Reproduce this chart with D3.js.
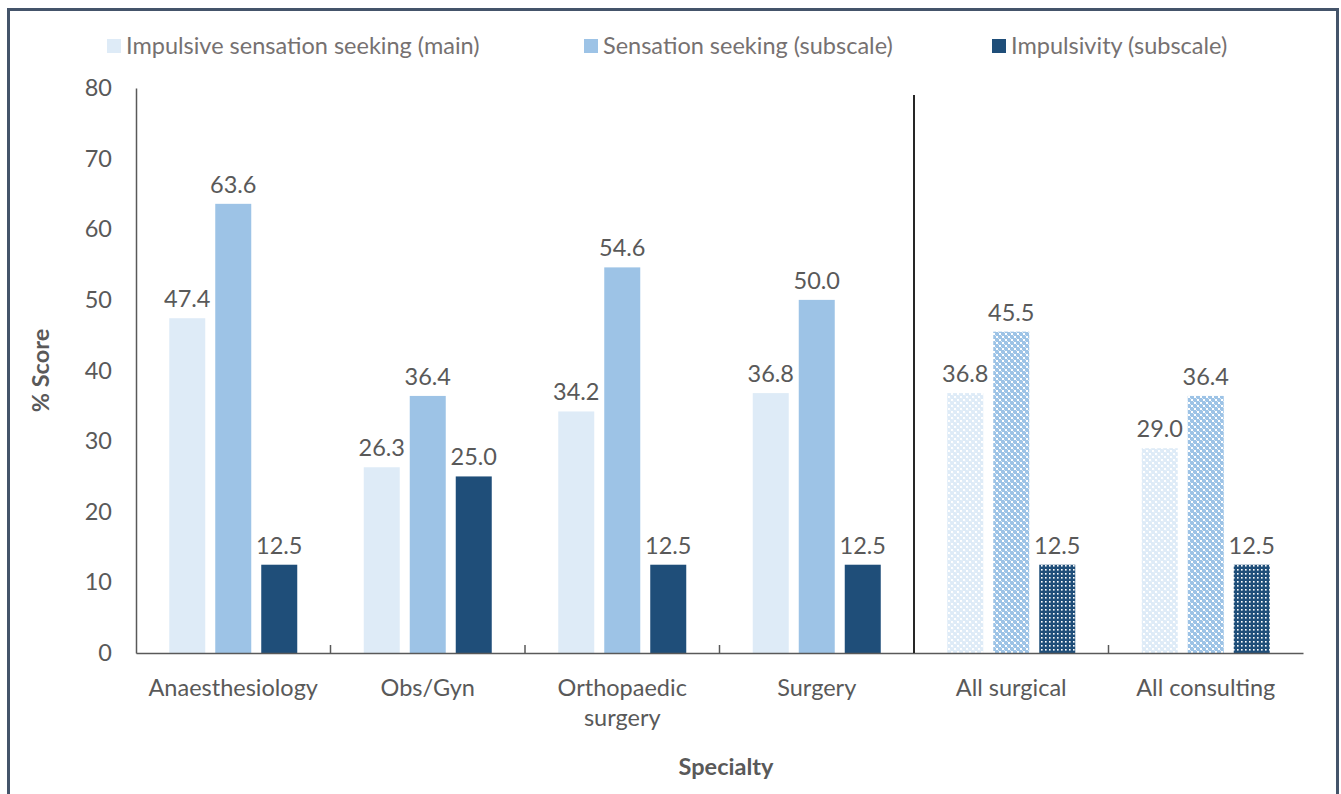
<!DOCTYPE html>
<html>
<head>
<meta charset="utf-8">
<script src="https://cdn.jsdelivr.net/npm/d3@7"></script>
<style>
  body { margin: 0; background: #fff; }
  svg { display: block; font-family: Lato, "Open Sans", sans-serif; }
</style>
</head>
<body>
<div id="chart"></div>
<script>
// 数据
const categories = ['Anaesthesiology', 'Obs/Gyn', 'Orthopaedic surgery', 'Surgery', 'All surgical', 'All consulting'];
const seriesNames = ['Impulsive sensation seeking (main)', 'Sensation seeking (subscale)', 'Impulsivity (subscale)'];
const mainValues = [47.4, 26.3, 34.2, 36.8, 36.8, 29.0];
const sensationValues = [63.6, 36.4, 54.6, 50.0, 45.5, 36.4];
const impulsivityValues = [12.5, 25.0, 12.5, 12.5, 12.5, 12.5];
const yTicks = [0, 10, 20, 30, 40, 50, 60, 70, 80];
// 汇总组（带图案填充）
const summaryGroups = ['All surgical', 'All consulting'];

// 颜色配置
const colors = {
  series: ['#deebf7', '#9dc3e6', '#1f4e79'],
  text: '#595959',
  legendText: '#767171',
  axis: '#595959',
  border: '#44546a',
  divider: '#262626'
};

const fontSize = 23.5;
const width = 1341;
const height = 794;

const svg = d3.select('#chart')
  .append('svg')
  .attr('width', width)
  .attr('height', height);

// 外边框
svg.append('rect')
  .attr('x', 8.5).attr('y', 9.5)
  .attr('width', 1329).attr('height', 800)
  .attr('fill', 'none')
  .attr('stroke', colors.border)
  .attr('stroke-width', 3);

// 图案定义
const defs = svg.append('defs');
function addPattern(id, bg, size, dots) {
  const p = defs.append('pattern')
    .attr('id', id)
    .attr('patternUnits', 'userSpaceOnUse')
    .attr('width', size).attr('height', size);
  p.append('rect').attr('width', size).attr('height', size).attr('fill', bg);
  dots.forEach(d => {
    p.append('rect')
      .attr('x', d[0]).attr('y', d[1])
      .attr('width', d[2]).attr('height', d[2])
      .attr('fill', d[3] || '#fff');
  });
}
addPattern('pat0', colors.series[0], 6, [[0, 0, 2], [3, 3, 2], [1.5, 1.5, 1, '#f4f8fc'], [4.5, 4.5, 1, '#f4f8fc']]);
addPattern('pat1', colors.series[1], 6, [[0, 0, 2], [3, 3, 2], [2, 2, 1, '#d6e6f4'], [5, 5, 1, '#d6e6f4']]);
addPattern('pat2', colors.series[2], 4, [[1, 1, 1.6]]);

// 比例尺
const x = d3.scaleBand()
  .domain(categories)
  .range([136, 1303]);

const xSub = d3.scaleBand()
  .domain(d3.range(3))
  .range([-64, 64])
  .paddingInner(10 / 46);

const y = d3.scaleLinear()
  .domain([0, 80])
  .range([653, 88]);

// Y 轴
const yAxis = svg.append('g')
  .attr('transform', 'translate(136,0)')
  .call(d3.axisLeft(y).tickValues(yTicks).tickSize(0).tickPadding(24));
yAxis.select('.domain').attr('stroke', colors.axis).attr('stroke-width', 1.5);
yAxis.selectAll('text')
  .attr('font-size', fontSize)
  .attr('fill', colors.text)
  .style('font-family', 'Lato, sans-serif');

// 数据整理
const seriesValues = [mainValues, sensationValues, impulsivityValues];
const bars = [];
categories.forEach((c, i) => {
  seriesValues.forEach((vals, s) => {
    bars.push({ cat: c, s: s, value: vals[i] });
  });
});

// 柱子
svg.append('g')
  .selectAll('rect')
  .data(bars)
  .enter()
  .append('rect')
  .attr('x', d => x(d.cat) + x.bandwidth() / 2 + xSub(d.s))
  .attr('y', d => y(d.value))
  .attr('width', xSub.bandwidth())
  .attr('height', d => y(0) - y(d.value))
  .attr('fill', d => summaryGroups.includes(d.cat) ? `url(#pat${d.s})` : colors.series[d.s]);

// 数值标签
svg.append('g')
  .selectAll('text')
  .data(bars)
  .enter()
  .append('text')
  .attr('x', d => x(d.cat) + x.bandwidth() / 2 + xSub(d.s) + xSub.bandwidth() / 2)
  .attr('y', d => y(d.value) - 11)
  .attr('text-anchor', 'middle')
  .attr('font-size', fontSize)
  .attr('fill', colors.text)
  .text(d => d.value.toFixed(1));

// X 轴
const xAxis = svg.append('g')
  .attr('transform', `translate(0,${y(0)})`)
  .call(d3.axisBottom(x).tickSize(0).tickFormat(''));
xAxis.select('.domain').attr('stroke', colors.axis).attr('stroke-width', 1.5);

// 类别分隔刻度（向上）
const boundaries = categories.slice(1).map(c => x(c));
svg.append('g')
  .selectAll('line')
  .data(boundaries)
  .enter()
  .append('line')
  .attr('x1', d => d).attr('x2', d => d)
  .attr('y1', y(0) - 8).attr('y2', y(0))
  .attr('stroke', colors.axis)
  .attr('stroke-width', 1.5);

// X 轴类别标签（长名称换行）
const xLabels = svg.append('g')
  .selectAll('text')
  .data(categories)
  .enter()
  .append('text')
  .attr('x', d => x(d) + x.bandwidth() / 2)
  .attr('y', 696)
  .attr('text-anchor', 'middle')
  .attr('font-size', fontSize)
  .attr('fill', colors.text);
xLabels.each(function(d) {
  const lines = d === 'Orthopaedic surgery' ? ['Orthopaedic', 'surgery'] : [d];
  const t = d3.select(this);
  lines.forEach((line, i) => {
    t.append('tspan')
      .attr('x', x(d) + x.bandwidth() / 2)
      .attr('dy', i === 0 ? 0 : 30)
      .text(line);
  });
});

// 专科与汇总之间的分隔线
svg.append('line')
  .attr('x1', x('All surgical')).attr('x2', x('All surgical'))
  .attr('y1', 95).attr('y2', y(0))
  .attr('stroke', colors.divider)
  .attr('stroke-width', 2);

// 坐标轴标题
svg.append('text')
  .attr('transform', `translate(49,${(y(0) + y(80)) / 2}) rotate(-90)`)
  .attr('text-anchor', 'middle')
  .attr('font-size', fontSize)
  .attr('font-weight', 'bold')
  .attr('fill', colors.text)
  .text('% Score');

svg.append('text')
  .attr('x', 726)
  .attr('y', 775)
  .attr('text-anchor', 'middle')
  .attr('font-size', fontSize)
  .attr('font-weight', 'bold')
  .attr('fill', colors.text)
  .text('Specialty');

// 图例
const legendX = [107, 584, 992];
const legend = svg.append('g')
  .selectAll('g')
  .data(seriesNames)
  .enter()
  .append('g')
  .attr('transform', (d, i) => `translate(${legendX[i]},39)`);
legend.append('rect')
  .attr('width', 14).attr('height', 14)
  .attr('fill', (d, i) => colors.series[i]);
legend.append('text')
  .attr('x', 19)
  .attr('y', 15)
  .attr('font-size', fontSize)
  .attr('fill', colors.legendText)
  .text(d => d);
</script>
</body>
</html>
